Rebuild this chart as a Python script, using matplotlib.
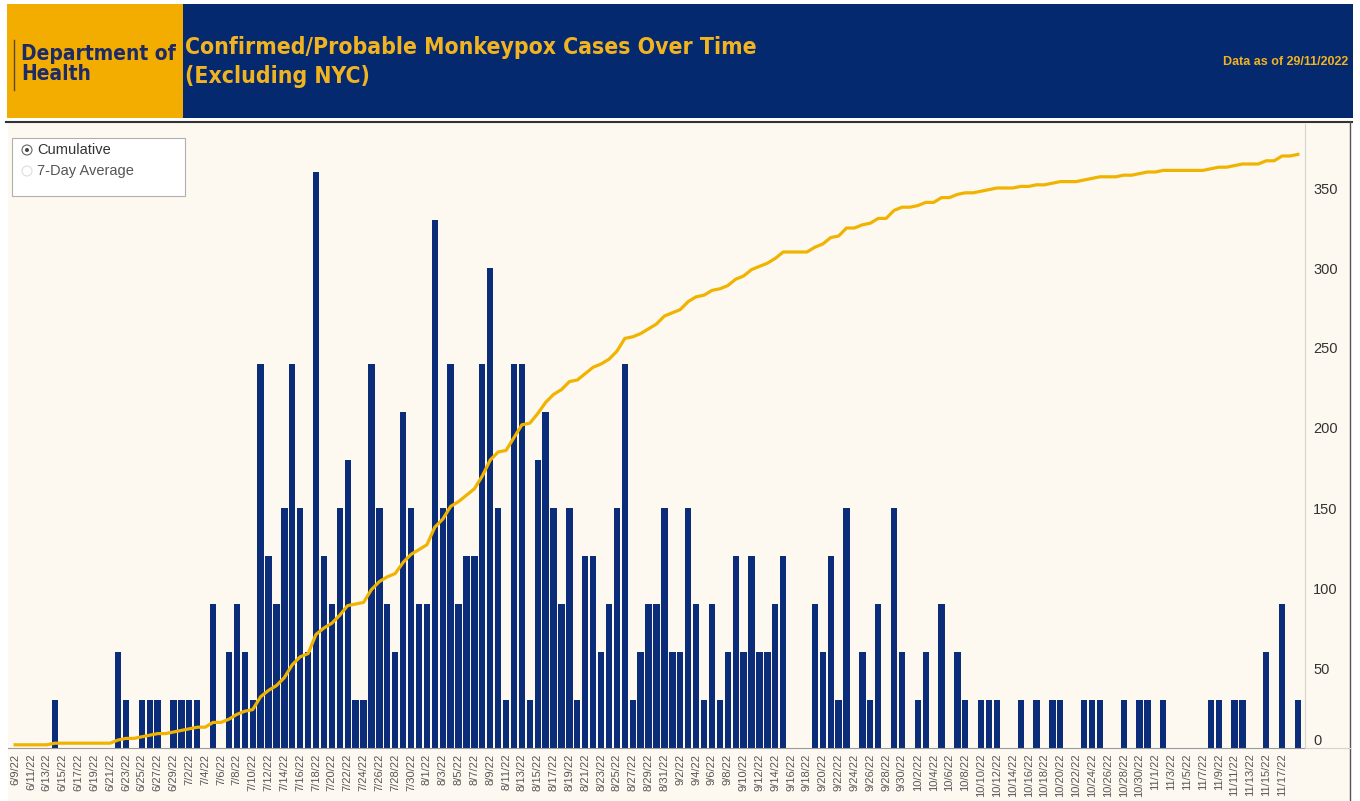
import numpy as np
import pandas as pd
import matplotlib
matplotlib.use("Agg")
import matplotlib.pyplot as plt
from matplotlib.patches import Rectangle, Ellipse
from matplotlib.lines import Line2D

# Daily confirmed/probable cases (one bar step = 1 case)
START, END = "2022-06-09", "2022-11-19"
MISSING_DAY = "2022-07-01"  # no row for this date in the source table
june = [0, 0, 0, 0, 0, 1, 0, 0, 0, 0, 0, 0, 0, 2, 1, 0, 1, 1, 1, 0, 1, 1]
july = [1, 1, 0, 3, 0, 2, 3, 2, 1, 8, 4, 3, 5, 8, 5, 2, 12, 4, 3, 5, 6, 1, 1,
        8, 5, 3, 2, 7, 5, 3]
august = [3, 11, 5, 8, 3, 4, 4, 8, 10, 5, 1, 8, 8, 1, 6, 7, 5, 3, 5, 1, 4, 4,
          2, 3, 5, 8, 1, 2, 3, 3, 5]
september = [2, 2, 5, 3, 1, 3, 1, 2, 4, 2, 4, 2, 2, 3, 4, 0, 0, 0, 3, 2, 4, 1,
             5, 0, 2, 1, 3, 0, 5, 2]
october = [0, 1, 2, 0, 3, 0, 2, 1, 0, 1, 1, 1, 0, 0, 1, 0, 1, 0, 1, 1, 0, 0,
           1, 1, 1, 0, 0, 1, 0, 1, 1]
november = [0, 1, 0, 0, 0, 0, 0, 1, 1, 0, 1, 1, 0, 0, 2, 0, 3, 0, 1]
CASES_BEFORE_START = 2

y_ticks = [0, 50, 100, 150, 200, 250, 300, 350]

NAVY = "#04296F"
GOLD = "#F3AC00"
TITLE_GOLD = "#F2B320"
BAR = "#0B2C78"
LINE = "#F0B400"
CREAM = "#FDF8F0"

W, H = 1360, 801


def fx(px):
    return px / W


def fy(py):
    return 1 - py / H


dates = pd.date_range(START, END).drop(pd.Timestamp(MISSING_DAY))
daily = np.array(june + july + august + september + october + november)
cumulative = CASES_BEFORE_START + np.cumsum(daily)
labels = [f"{d.month}/{d.day}/22" for d in dates]
x = np.arange(len(dates))

fig = plt.figure(figsize=(W / 100, H / 100), dpi=100, facecolor="white")

# header
fig.add_artist(Rectangle((fx(7), fy(118)), fx(176), 114 / H,
                         transform=fig.transFigure, color=GOLD, lw=0))
fig.add_artist(Rectangle((fx(183), fy(118)), fx(1170), 114 / H,
                         transform=fig.transFigure, color=NAVY, lw=0))
fig.add_artist(Line2D([fx(14), fx(14)], [fy(40), fy(90)],
                      transform=fig.transFigure, color="#5a4a2a", lw=1))
fig.text(fx(21), fy(64), "Department of\nHealth", color="#1d2a66",
         fontsize=15, fontweight="bold", fontstretch="condensed",
         va="center", ha="left", linespacing=1.0)
fig.text(fx(185), fy(62), "Confirmed/Probable Monkeypox Cases Over Time\n"
         "(Excluding NYC)", color=TITLE_GOLD, fontsize=16.5,
         fontweight="bold", fontstretch="condensed", va="center",
         ha="left", linespacing=1.35)
fig.text(fx(1348), fy(62), "Data as of 29/11/2022", color=TITLE_GOLD,
         fontsize=9, fontweight="bold", family=["Liberation Sans"],
         va="center", ha="right")

# chart panel
fig.add_artist(Rectangle((fx(8), 0), fx(1342), fy(123), zorder=-5,
                         transform=fig.transFigure, color=CREAM, lw=0))
fig.add_artist(Line2D([fx(6), fx(1352)], [fy(122), fy(122)],
                      transform=fig.transFigure, color="#333333", lw=1.5))
fig.add_artist(Line2D([fx(1350), fx(1350)], [fy(122), 0],
                      transform=fig.transFigure, color="#555555", lw=1))
fig.add_artist(Line2D([fx(1305), fx(1350)], [fy(748), fy(748)],
                      transform=fig.transFigure, color="#d8d2c8", lw=0.8))

ax = fig.add_axes([fx(8), fy(748), fx(1297), (748 - 124) / H])
ax.set_facecolor(CREAM)
ax.bar(x, daily, width=0.8, color=BAR, zorder=2)
ax.set_xlim(-0.9, len(x) - 0.1)
ax.set_ylim(0, 390 / 30)  # 1 case = 30 on the right-hand scale
ax.set_yticks([])
# every other date is labelled; the last day gets no label
ax.set_xticks(x[:-1:2])
ax.set_xticklabels(labels[:-1:2], rotation=90, fontsize=8, color="#555555",
                   family=["Liberation Sans"])
ax.tick_params(axis="x", length=0, pad=4)
for s in ["top", "left", "right"]:
    ax.spines[s].set_visible(False)
ax.spines["bottom"].set_color("#9a9a9a")
ax.spines["bottom"].set_linewidth(0.8)

ax2 = ax.twinx()
ax2.plot(x, cumulative, color=LINE, lw=2.3, zorder=3)
ax2.set_ylim(0, 390)
ax2.set_yticks(y_ticks)
ax2.set_yticklabels([str(t) for t in y_ticks], fontsize=10.5,
                    color="#333333", family=["Liberation Sans"])
ax2.tick_params(axis="y", length=0, pad=6)
ax2.get_yticklabels()[0].set_va("bottom")
for s in ["top", "left", "bottom"]:
    ax2.spines[s].set_visible(False)
ax2.spines["right"].set_color("#d8d2c8")
ax2.spines["right"].set_linewidth(0.8)

# radio-button selector box
fig.add_artist(Rectangle((fx(12), fy(196)), fx(173), 58 / H,
                         transform=fig.transFigure, facecolor="white",
                         edgecolor="#b0b0b0", lw=0.8))
fig.add_artist(Ellipse((fx(27), fy(150)), 10 / W, 10 / H,
                       transform=fig.transFigure, facecolor="white",
                       edgecolor="#666666", lw=0.8))
fig.add_artist(Ellipse((fx(27), fy(150)), 4 / W, 4 / H,
                       transform=fig.transFigure, color="#444444", lw=0))
fig.add_artist(Ellipse((fx(27), fy(171)), 10 / W, 10 / H,
                       transform=fig.transFigure, facecolor="white",
                       edgecolor="#dddddd", lw=0.8))
fig.text(fx(37), fy(150), "Cumulative", fontsize=10.5, color="#333333",
         va="center", family=["Liberation Sans"])
fig.text(fx(37), fy(171), "7-Day Average", fontsize=10.5, color="#555555",
         va="center", family=["Liberation Sans"])

fig.savefig("out.png", dpi=100, facecolor="white")
